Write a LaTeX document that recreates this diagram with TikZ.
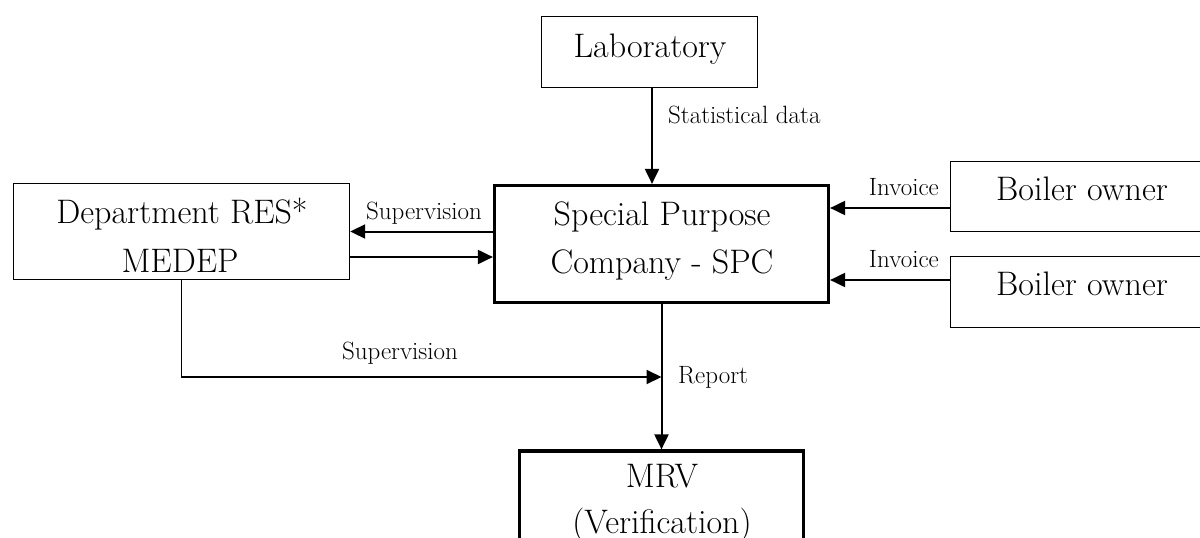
\documentclass[tikz,border=0pt]{standalone}
\usetikzlibrary{arrows.meta,calc}
\begin{document}
\begin{tikzpicture}[x=1pt,y=-1pt,
  thinbox/.style={draw,line width=1.4pt,inner sep=0pt,rectangle},
  thickbox/.style={draw,line width=3.2pt,inner sep=0pt,rectangle},
  boxtext/.style={font=\fontsize{34}{47}\selectfont,align=center,inner sep=0pt},
  lbl/.style={font=\fontsize{25}{30}\selectfont,inner sep=0pt},
  conn/.style={line width=2pt,-{Triangle[length=15pt,width=14pt]}},
  plain/.style={line width=1.6pt}]
\useasboundingbox (0,0) rectangle (1200,538);
% boxes
\node[thinbox,minimum width=216pt,minimum height=71pt] (lab) at (649.5,52) {};
\node[thickbox,minimum width=334pt,minimum height=117pt] (spc) at (661.5,244) {};
\node[thinbox,minimum width=336pt,minimum height=96pt] (dept) at (181.5,231.5) {};
\node[thinbox,minimum width=263pt,minimum height=70pt] (b1) at (1082,196.5) {};
\node[thinbox,minimum width=263pt,minimum height=71pt] (b2) at (1082,292) {};
\node[thickbox,minimum width=284pt,minimum height=140pt] (mrv) at (661.5,521) {};
% box texts
\node[boxtext,anchor=base] (labt) at (650,57) {Laboratory};
\node[boxtext,anchor=base] (spct1) at (662,225) {Special Purpose};
\node[boxtext,anchor=base] (spct2) at (662,273) {Company - SPC};
\node[boxtext,anchor=base] (deptt1) at (182,223) {Department RES*};
\node[boxtext,anchor=base] (deptt2) at (180,272) {MEDEP};
\node[boxtext,anchor=base] (b1t) at (1082,200) {Boiler owner};
\node[boxtext,anchor=base] (b2t) at (1082,295) {Boiler owner};
\node[boxtext,anchor=base] (mrvt1) at (662,487) {MRV};
\node[boxtext,anchor=base] (mrvt2) at (662,533) {(Verification)};
% connectors
\draw[conn] (lab.south -| 652,0) -- (spc.north -| 652,0);
\draw[conn] (spc.west |- dept.east) -- (dept.east);
\draw[conn] ([yshift=-25.5pt]dept.east) -- ([yshift=-25.5pt]dept.east -| spc.west);
\draw[conn] ([yshift=-11.5pt]b1.west) -- ([yshift=-11.5pt]b1.west -| spc.east);
\draw[conn] ([yshift=12pt]b2.west) -- ([yshift=12pt]b2.west -| spc.east);
\draw[conn] (spc.south) -- (mrv.north);
\coordinate (j) at (spc.south |- 0,377);
\draw[plain] (dept.south) |- ([xshift=-14pt]j);
\draw[conn] ([xshift=-15pt]j) -- (j);
% labels
\node[lbl,anchor=base west] (l1) at (668,123) {Statistical data};
\node[lbl,anchor=base] (l2) at (424,219) {Supervision};
\node[lbl,anchor=base] (l3) at (400,359) {Supervision};
\node[lbl,anchor=base west] (l4) at (678,383) {Report};
\node[lbl,anchor=base east] (l5) at (939,195) {Invoice};
\node[lbl,anchor=base east] (l6) at (939,267) {Invoice};
\end{tikzpicture}
\end{document}
